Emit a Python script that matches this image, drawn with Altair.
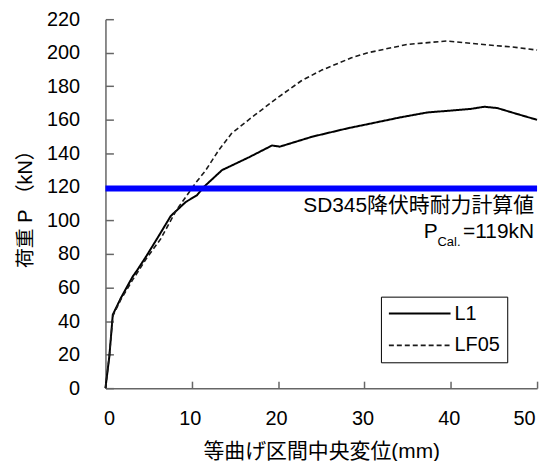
import altair as alt
import pandas as pd

# ---- data ----
x_l1 = [0, 0.45, 0.85, 1.8, 3.15, 3.7, 4.7, 6.2, 7.57, 9.3, 10.6, 11.4, 13.5, 16.6, 19.3, 20.2, 24.0, 28.1, 30.0, 34.2, 37.3, 40.0, 42.3, 43.9, 45.4, 48.0, 50.0]
p_l1 = [0, 19, 43.8, 53.9, 66.5, 70.5, 78.4, 91, 102.7, 111, 115, 120, 130, 137.6, 144.7, 144, 150, 155, 157, 161.5, 164.4, 165.5, 166.5, 167.8, 167, 163, 160]

x_lf = [0, 0.45, 0.85, 1.8, 3.2, 3.9, 4.7, 6.4, 8.2, 10.5, 11.6, 13.1, 14.6, 16.9, 20.0, 22.7, 25.0, 28.5, 30.4, 35.0, 39.6, 41.5, 44.4, 47.0, 50.0]
p_lf = [0, 19, 43, 53, 65, 70.5, 77, 89, 106, 122.7, 129.8, 141.7, 151.8, 161.3, 173.4, 183.3, 189.5, 197, 200, 205, 207, 206, 204.6, 203.5, 201.6]

series = ["L1", "LF05"]
y_ticks = [0, 20, 40, 60, 80, 100, 120, 140, 160, 180, 200, 220]
x_ticks = [0, 10, 20, 30, 40, 50]
p_cal = 119
note_line1 = "SD345降伏時耐力計算値"
note_p = "P"
note_sub = "Cal."
note_val = "=119kN"
x_title = "等曲げ区間中央変位(mm)"
y_title = "荷重 P （kN）"

FONT = "Liberation Sans, Arial, Noto Sans CJK JP"
AXC = "#666666"
W, H = 434, 371

df = pd.concat([
    pd.DataFrame({"x": x_l1, "P": p_l1, "series": "L1"}),
    pd.DataFrame({"x": x_lf, "P": p_lf, "series": "LF05"}),
], ignore_index=True)

xscale = alt.Scale(domain=[0, 50], nice=False, zero=False)
yscale = alt.Scale(domain=[0, 220], nice=False, zero=False)

# main axes: labels + domain, no ticks
xaxis = alt.Axis(orient="bottom", values=x_ticks, title=x_title, ticks=False, grid=False,
                 labelFontSize=20, labelPadding=21, labelOffset=-2,
                 titleFontSize=21, titlePadding=12)
yaxis = alt.Axis(orient="left", values=y_ticks, title=y_title, ticks=False, grid=False,
                 labelFontSize=20, labelPadding=26,
                 titleFontSize=20, titlePadding=11)
# inward-pointing ticks: opposite-side axes moved onto the plot edges
yaxis_in = alt.Axis(orient="right", offset=-W, values=y_ticks, labels=False, domain=False,
                    ticks=True, tickSize=8, tickWidth=1.5, tickColor=AXC, grid=False, title=None)
xaxis_in = alt.Axis(orient="top", offset=-H, values=x_ticks, labels=False, domain=False,
                    ticks=True, tickSize=7, tickWidth=1.5, tickColor=AXC, grid=False, title=None)

leg = alt.Legend(
    title=None, orient="none", legendX=277, legendY=279,
    symbolType="stroke", symbolSize=3844, symbolStrokeWidth=2,
    clipHeight=20, rowPadding=12, padding=7,
    labelFontSize=20, labelFont=FONT, labelColor="black", labelOffset=3,
    strokeColor="black", fillColor="white", cornerRadius=0,
)

lines = alt.Chart(df).mark_line(strokeJoin="round").encode(
    x=alt.X("x:Q", scale=xscale, axis=xaxis),
    y=alt.Y("P:Q", scale=yscale, axis=yaxis),
    color=alt.Color("series:N", scale=alt.Scale(domain=series, range=["#000000", "#1a1a1a"]), legend=leg),
    strokeDash=alt.StrokeDash("series:N", scale=alt.Scale(domain=series, range=[[1, 0], [5, 3]]), legend=leg),
    strokeWidth=alt.StrokeWidth("series:N", scale=alt.Scale(domain=series, range=[2, 1.6]), legend=None),
)

ytick = alt.Chart(pd.DataFrame({"v": y_ticks})).mark_tick(opacity=0).encode(
    y=alt.Y("v:Q", scale=yscale, axis=yaxis_in))
xtick = alt.Chart(pd.DataFrame({"v": x_ticks})).mark_tick(opacity=0).encode(
    x=alt.X("v:Q", scale=xscale, axis=xaxis_in))


def X(field):
    return alt.X(field, scale=xscale, axis=None)


def Y(field):
    return alt.Y(field, scale=yscale, axis=None)


blue = alt.Chart(pd.DataFrame({"p": [p_cal], "x0": [0], "x1": [50]})).mark_rule(
    color="#0000ff", strokeWidth=6).encode(
    y=Y("p:Q"), x=X("x0:Q"), x2="x1:Q")

ann1 = alt.Chart(pd.DataFrame({"x": [50], "y": [108.5], "t": [note_line1]})).mark_text(
    align="right", baseline="middle", font=FONT, fontSize=21, dx=-3, color="black").encode(
    x=X("x:Q"), y=Y("y:Q"), text="t:N")

ann_val = alt.Chart(pd.DataFrame({"x": [50], "y": [93], "t": [note_val]})).mark_text(
    align="right", baseline="middle", font=FONT, fontSize=21, dx=-3, color="black").encode(
    x=X("x:Q"), y=Y("y:Q"), text="t:N")
ann_sub = alt.Chart(pd.DataFrame({"x": [50], "y": [93], "t": [note_sub]})).mark_text(
    align="right", baseline="middle", font=FONT, fontSize=13, dx=-77, dy=10, color="black").encode(
    x=X("x:Q"), y=Y("y:Q"), text="t:N")
ann_p = alt.Chart(pd.DataFrame({"x": [50], "y": [93], "t": [note_p]})).mark_text(
    align="right", baseline="middle", font=FONT, fontSize=21, dx=-100, color="black").encode(
    x=X("x:Q"), y=Y("y:Q"), text="t:N")

chart = alt.layer(lines, ytick, xtick, blue, ann1, ann_val, ann_sub, ann_p).resolve_axis(
    x="independent", y="independent"
).properties(
    width=W, height=H,
    autosize=alt.AutoSizeParams(type="none"),
    padding={"left": 98, "top": 10, "right": 11, "bottom": 72},
    background="white",
).configure_view(stroke=None).configure_axis(
    domainColor=AXC, domainWidth=1.5,
    labelColor="black", titleColor="black",
    labelFont=FONT, titleFont=FONT, titleFontWeight="normal",
)

chart.save("out.html", embed_options={"renderer": "svg", "actions": False})
